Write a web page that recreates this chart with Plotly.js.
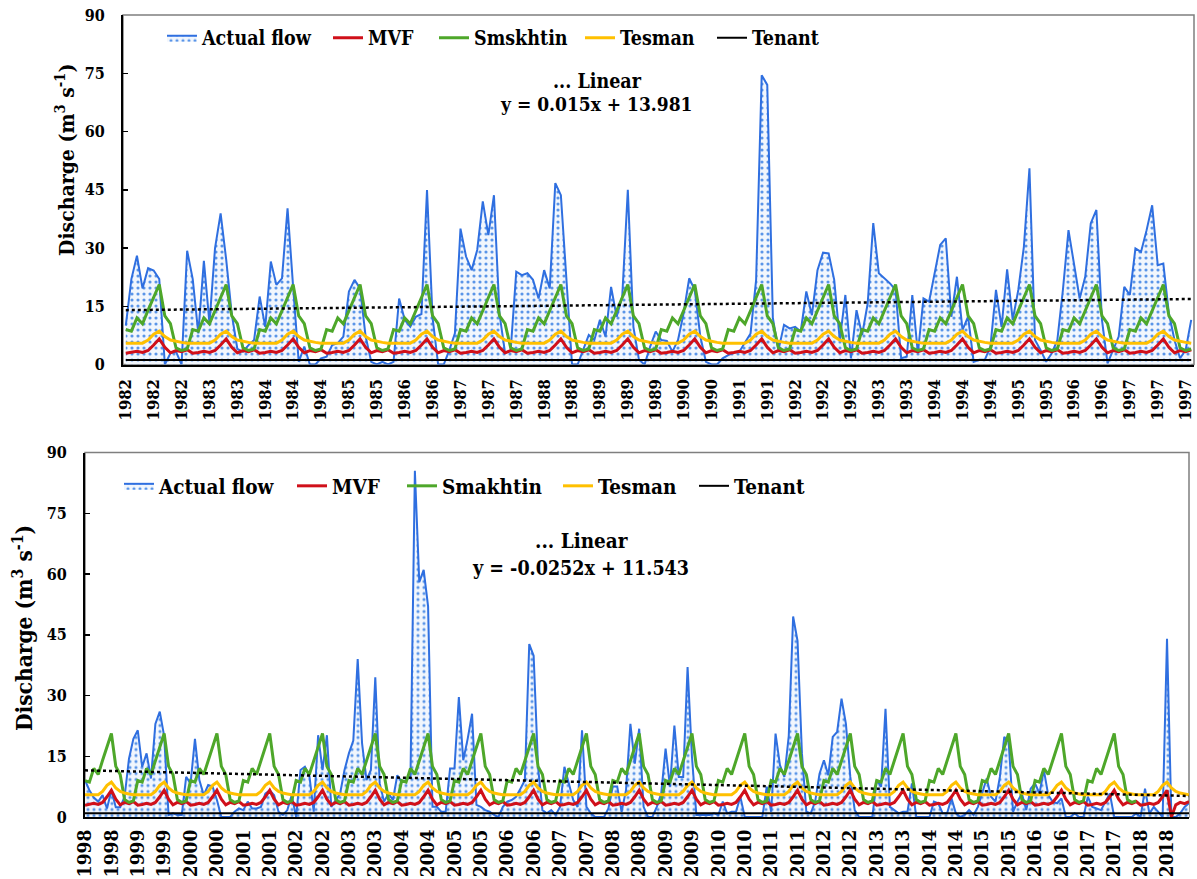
<!DOCTYPE html>
<html><head><meta charset="utf-8">
<script src="https://cdn.plot.ly/plotly-3.0.1.min.js"></script>
<style>html,body{margin:0;padding:0;background:#fff}#chart{width:1197px;height:879px}</style>
</head><body><div id="chart"></div>
<script>
// ---------- DATA ----------
const topTickLabels = ['1982','1982','1982','1983','1983','1984','1984','1984','1985','1985','1986','1986','1987','1987','1987','1988','1988','1989','1989','1989','1990','1990','1991','1991','1992','1992','1992','1993','1993','1994','1994','1994','1995','1995','1996','1996','1997','1997','1997'];
const bottomTickLabels = ['1998','1998','1999','1999','2000','2000','2001','2001','2002','2002','2003','2003','2004','2004','2005','2005','2006','2006','2007','2007','2008','2008','2009','2009','2010','2010','2011','2011','2012','2012','2013','2013','2014','2014','2015','2015','2016','2016','2017','2017','2018','2018'];

// Actual monthly flow 1982-1997 (m3/s)
const topActualFlow = [
 10, 22, 28, 19.6, 24.8, 24.2, 22, 0, 2.9, 3.3, 0, 29.3,
 22, 8, 26.7, 10.6, 30, 38.9, 27, 13, 4, 3.3, 5, 6.3,
 17.5, 9.7, 26.5, 20.5, 22.2, 40.2, 20, 0.7, 4.6, 0, 0, 1.6,
 2, 5, 5.5, 7.2, 18.8, 21.8, 19.6, 7.2, 0.7, 0, 0.7, 0,
 0.7, 17, 11.5, 9.7, 12.3, 13, 44.9, 12, 0, 0, 3.7, 8,
 35, 27.8, 24.3, 29.5, 42, 33.3, 43.6, 13, 2.9, 3.7, 23.9, 23,
 23.5, 21.8, 17, 24.3, 19.6, 46.7, 43.6, 22, 0, 0, 3.7, 7.6,
 6.3, 11.5, 7.2, 20, 12.3, 17.5, 45, 9.7, 1.2, 0, 4.6, 8.5,
 6.3, 6.1, 3.3, 6.3, 13.2, 22.2, 19.2, 7.2, 0.7, 0, 0, 1.6,
 2.4, 3, 3.3, 5.5, 8, 21.8, 74.5, 72, 12, 3.7, 10.2, 9.3,
 9.7, 8.5, 18.8, 12.7, 24.3, 28.8, 28.6, 21.8, 6.3, 17.9, 1.6, 14,
 7.6, 15.7, 36.4, 23.5, 22.2, 20.9, 19.2, 1.6, 2, 17.9, 2.9, 17,
 16.2, 23.5, 30.8, 32.5, 12.3, 22.6, 8.9, 12.3, 0.7, 1.2, 1.2, 4.6,
 19.2, 9.7, 24.5, 11.5, 19.2, 30.3, 50.5, 6.3, 3.7, 0.7, 2.9, 6.3,
 19.2, 34.6, 26, 17, 22.6, 36.4, 39.8, 11.5, 0.3, 3.7, 7.2, 20,
 17.9, 29.9, 29, 34.6, 41, 25.6, 26, 13.2, 6.3, 1.6, 3.7, 11.5
];

// Actual monthly flow 1998-2018 (m3/s)
const bottomActualFlow = [
 9.1, 6.6, 4.8, 3.8, 5.4, 2.1, 6.6, 2.4, 2.4, 5.0, 14.4, 19.3,
 21.4, 12.4, 15.7, 9.5, 23, 26, 20, 0.5, 0.9, 0.5, 0.5, 9.9,
 8.3, 19.3, 9.1, 5.4, 7.9, 7.5, 4.2, 0, 0, 0, 1.3, 2.1,
 1.7, 3.8, 2.1, 2.1, 2.5, 5.8, 6.6, 5.4, 1.3, 0.5, 1.7, 5.4,
 0, 11.6, 12.4, 10.3, 1.3, 20.2, 11.6, 20.2, 2.5, 4.2, 5.8, 11.6,
 15.7, 18.9, 39, 18.1, 9.1, 11.6, 34.5, 8.3, 3.8, 5.8, 4.2, 10.3,
 8.7, 9.1, 10, 85.5, 58, 61, 52, 2.5, 2.5, 1.3, 1.3, 12,
 12, 29.6, 14, 19.3, 25.5, 3, 2.5, 1.7, 1.3, 0.5, 0, 2.5,
 3.8, 4.2, 5, 7, 9.1, 42.7, 39.8, 12.4, 1.7, 0.9, 1.7, 0.5,
 2.5, 12.4, 8.3, 4.2, 2.5, 21.4, 2.5, 0.9, 0, 0, 0, 2.1,
 7.5, 7.5, 1.3, 6.6, 23, 13.2, 21.8, 2.5, 0, 0, 2.5, 5.8,
 16.9, 7.5, 22.6, 9.9, 9.9, 37, 14.8, 0.5, 0.5, 0.5, 0.5, 0.9,
 0.5, 3.8, 0.9, 1.3, 1.3, 5, 0, 0, 0, 0, 0, 7.5,
 1.3, 20.6, 12.8, 9.9, 20, 49.5, 43.5, 15.7, 1.3, 0.9, 3.8, 10.7,
 14, 10.3, 19.8, 21, 29.2, 23, 9.9, 1.7, 0, 0, 0, 0,
 9.1, 7.5, 26.7, 2.5, 1.7, 0.9, 1.3, 1.3, 8.3, 0, 0, 0,
 0, 3.8, 3.4, 0.9, 0.9, 4.6, 0.9, 0, 0.5, 1.7, 0.5, 2.5,
 5.8, 9.5, 5, 3.8, 9.9, 19.8, 18.5, 1.3, 3.8, 5.8, 1.7, 7,
 8.3, 5.8, 11.6, 5.4, 3.8, 3.4, 4.6, 0, 0, 0.9, 0, 0,
 5, 2.5, 2.1, 1.7, 3.8, 5.8, 0, 0, 0, 0, 0, 0.9,
 0, 7, 0.9, 2.5, 1.3, 0, 44, 0, 0, 0.9, 2.5, 3.4
];

// Environmental-flow methods: monthly regime (same each year)
const mvfMonthly      = [2.9, 3.1, 3.4, 3.1, 3.6, 5.0, 6.6, 4.4, 3.0, 3.6, 3.3, 3.8];
const mvfLastYear     = [2.9, 3.1, 3.4, 3.1, 3.6, 5.0, 6.6, 0, 3.0, 3.6, 3.3, 3.8];
const smakhtinMonthly = [9.0, 8.6, 12.0, 10.5, 14.0, 17.5, 20.6, 12.5, 10.5, 4.3, 3.6, 4.0];
const tesmanMonthly   = [5.5, 5.5, 5.5, 5.5, 6.3, 7.8, 8.6, 7.2, 6.3, 5.9, 5.7, 5.5];
const tenantTopMonthly    = [1.15, 1.15, 1.15, 1.15, 1.15, 1.15, 1.15, 1.15, 1.15, 1.15, 1.15, 1.15];
const tenantBottomMonthly = [0.9, 0.9, 0.9, 0.9, 0.9, 0.9, 0.9, 0.9, 0.9, 0.9, 0.9, 0.9];

const topYears = [1982,1983,1984,1985,1986,1987,1988,1989,1990,1991,1992,1993,1994,1995,1996,1997];
const bottomYears = [1998,1999,2000,2001,2002,2003,2004,2005,2006,2007,2008,2009,2010,2011,2012,2013,2014,2015,2016,2017,2018];
const bottomSmakhtinYears = bottomYears.slice(0, 20); // no Smakhtin line drawn for 2018

const topSeriesNames = ['Actual flow', 'MVF', 'Smskhtin', 'Tesman', 'Tenant'];
const bottomSeriesNames = ['Actual flow', 'MVF', 'Smakhtin', 'Tesman', 'Tenant'];

// Linear trend equations shown on the chart (x = month number starting at 1)
const topTrend = {slope: 0.015, intercept: 13.981};
const bottomTrend = {slope: -0.0252, intercept: 11.543};

// ---------- BUILD ----------
function tile(pattern, years, lastOverride) {
  const out = [];
  years.forEach((y, k) => {
    const p = (lastOverride && k === years.length - 1) ? lastOverride : pattern;
    p.forEach(v => out.push(v));
  });
  return out;
}
const idx = n => Array.from({length: n}, (_, i) => i);
const trend = (t, n) => idx(n).map(i => t.intercept + t.slope * (i + 1));

const W = 1197, H = 879;
const FONT = 'DejaVu Serif Condensed, DejaVu Serif';
const BLUE = '#2f6fe0', RED = '#d0101a', GREEN = '#4ea72a', ORANGE = '#ffc000', BLACK = '#000000';

const topLegendTextX = [203, 369, 475, 621, 753];
const bottomLegendTextX = [160, 333, 443, 599, 735];

function makeTraces(actual, series, tr, xa, ya, names, legIds) {
  const n = actual.length;
  const x = idx(n);
  const styles = [
    {color: RED, width: 3}, {color: GREEN, width: 3}, {color: ORANGE, width: 3}, {color: BLACK, width: 2}
  ];
  const out = [
    {x, y: actual, xaxis: xa, yaxis: ya, legend: legIds[0], name: names[0], type: 'scatter', mode: 'lines',
     line: {color: BLUE, width: 2}, fill: 'tozeroy', fillcolor: 'rgba(0,0,0,0)',
     fillpattern: {shape: '.', fgcolor: '#5a95e8', bgcolor: '#f1f6fd', size: 6, solidity: 0.22}}
  ];
  series.forEach((s, k) => out.push({x: idx(s.length), y: s, xaxis: xa, yaxis: ya, legend: legIds[k + 1], name: names[k + 1],
    type: 'scatter', mode: 'lines', line: styles[k]}));
  out.push({x, y: tr, xaxis: xa, yaxis: ya, showlegend: false, type: 'scatter', mode: 'lines',
    line: {color: BLACK, width: 2.5, dash: 'dot'}, hoverinfo: 'skip'});
  return out;
}

const topLegIds = ['legend', 'legend2', 'legend3', 'legend4', 'legend5'];
const botLegIds = ['legend6', 'legend7', 'legend8', 'legend9', 'legend10'];

const traces = [
  ...makeTraces(topActualFlow,
      [tile(mvfMonthly, topYears), tile(smakhtinMonthly, topYears), tile(tesmanMonthly, topYears), tile(tenantTopMonthly, topYears)],
      trend(topTrend, topActualFlow.length), 'x', 'y', topSeriesNames, topLegIds),
  ...makeTraces(bottomActualFlow,
      [tile(mvfMonthly, bottomYears, mvfLastYear), tile(smakhtinMonthly, bottomSmakhtinYears), tile(tesmanMonthly, bottomYears), tile(tenantBottomMonthly, bottomYears)],
      trend(bottomTrend, bottomActualFlow.length), 'x2', 'y2', bottomSeriesNames, botLegIds)
];

const yTicks = [0, 15, 30, 45, 60, 75, 90];
function yAxis(domain, anchor) {
  return {domain, anchor, range: [0, 90], tickvals: yTicks, ticks: 'inside', ticklen: 5, tickwidth: 1.5, tickcolor: 'black',
    showline: true, linecolor: 'black', linewidth: 2, showgrid: false, zeroline: false, fixedrange: true,
    tickfont: {family: FONT, size: 16, weight: 'bold', color: 'black'}, ticklabelstandoff: 13};
}
function xAxis(domain, anchor, range, step, labels, fs, standoff) {
  return {domain, anchor, range, tickvals: labels.map((_, k) => k * step), ticktext: labels, tickangle: -90,
    ticks: '', showline: true, linecolor: 'black', linewidth: 2, showgrid: false, zeroline: false, fixedrange: true,
    ticklabeloverflow: 'allow',
    tickfont: {family: FONT, size: fs, weight: 'bold', color: 'black'}, ticklabelstandoff: standoff};
}
const bold = s => ({family: FONT, size: s, weight: 'bold', color: 'black'});

const layout = {
  width: W, height: H, margin: {l: 0, r: 0, t: 0, b: 0}, paper_bgcolor: 'white', plot_bgcolor: 'white',
  font: {family: FONT}, showlegend: true, hovermode: false,
  xaxis: xAxis([123 / W, 1194 / W], 'y', [-0.5, topActualFlow.length - 0.5], 5, topTickLabels, 16.5, 6),
  yaxis: yAxis([1 - 364.5 / H, 1 - 15 / H], 'x'),
  xaxis2: xAxis([85 / W, 1189 / W], 'y2', [0, bottomActualFlow.length - 1], 6, bottomTickLabels, 19, 3),
  yaxis2: yAxis([1 - 817 / H, 1 - 452.5 / H], 'x2'),
  shapes: [
    {type: 'rect', xref: 'x domain', yref: 'y domain', x0: 0, x1: 1, y0: 0, y1: 1, line: {color: '#7f7f7f', width: 1.5}, layer: 'below'},
    {type: 'rect', xref: 'x2 domain', yref: 'y2 domain', x0: 0, x1: 1, y0: 0, y1: 1, line: {color: '#7f7f7f', width: 1.5}, layer: 'below'}
  ],
  annotations: [
    {xref: 'paper', yref: 'paper', x: 65 / W, y: 1 - 160 / H, xanchor: 'center', yanchor: 'middle',
     text: 'Discharge (m<sup>3</sup> s<sup>-1</sup>)', textangle: -90, showarrow: false, font: bold(21)},
    {xref: 'paper', yref: 'paper', x: 22 / W, y: 1 - 628 / H, xanchor: 'center', yanchor: 'middle',
     text: 'Discharge (m<sup>3</sup> s<sup>-1</sup>)', textangle: -90, showarrow: false, font: bold(22.5)},
    {xref: 'paper', yref: 'paper', x: 597 / W, y: 1 - 81 / H, xanchor: 'center', yanchor: 'middle', text: '... Linear', showarrow: false, font: bold(19.5)},
    {xref: 'paper', yref: 'paper', x: 596 / W, y: 1 - 104 / H, xanchor: 'center', yanchor: 'middle',
     text: 'y = ' + topTrend.slope + 'x + ' + topTrend.intercept, showarrow: false, font: bold(19)},
    {xref: 'paper', yref: 'paper', x: 581 / W, y: 1 - 541 / H, xanchor: 'center', yanchor: 'middle', text: '... Linear', showarrow: false, font: bold(20.5)},
    {xref: 'paper', yref: 'paper', x: 580 / W, y: 1 - 568 / H, xanchor: 'center', yanchor: 'middle',
     text: 'y = ' + bottomTrend.slope + 'x + ' + bottomTrend.intercept, showarrow: false, font: bold(19.5)}
  ]
};

function addLegend(id, textX, yc, fs) {
  layout[id] = {orientation: 'h', x: (textX - 41) / W, xanchor: 'left', y: 1 - yc / H, yanchor: 'middle',
    bgcolor: 'rgba(0,0,0,0)', borderwidth: 0, font: bold(fs), itemwidth: 30};
}
topLegIds.forEach((id, k) => addLegend(id, topLegendTextX[k], 38, 19.5));
botLegIds.forEach((id, k) => addLegend(id, bottomLegendTextX[k], 486, 20.5));

Plotly.newPlot('chart', traces, layout, {staticPlot: true, displayModeBar: false});
</script>
</body></html>
